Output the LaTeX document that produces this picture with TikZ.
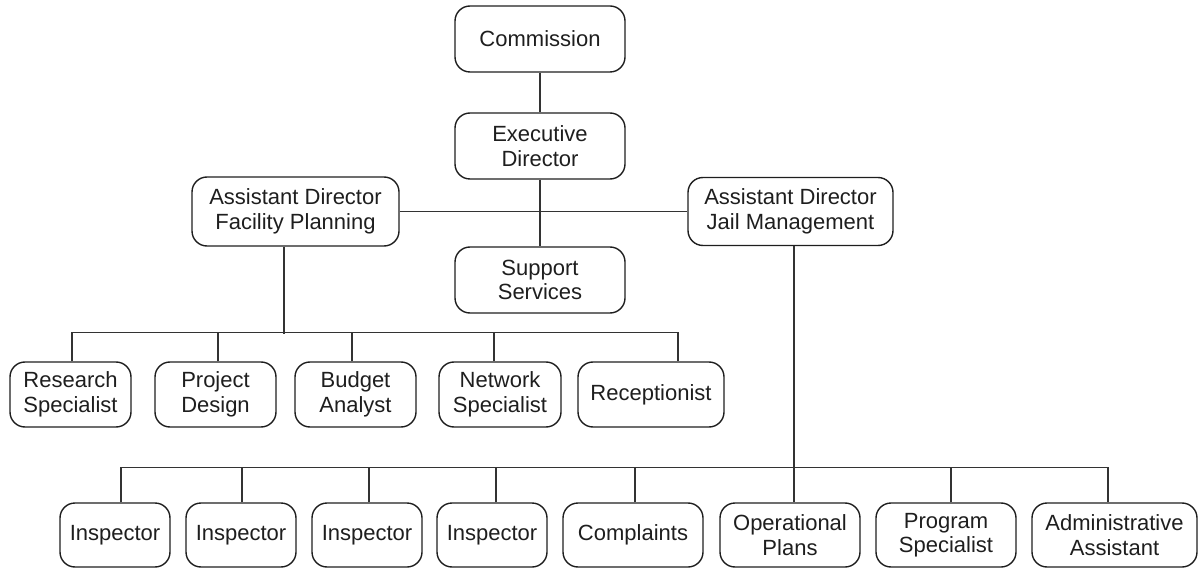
\documentclass[tikz,border=0pt]{standalone}
\usepackage{fontspec}
\setmainfont{Liberation Sans}
\usepackage{tikz}
\definecolor{ink}{HTML}{1E1E1E}
\definecolor{wire}{HTML}{333333}
\tikzstyle{every node}=[text=ink]
\tikzstyle{post}=[draw=ink, line width=1.4pt, rounded corners=15pt, align=center, inner sep=0pt, font=\fontsize{22}{24.5}\selectfont]
\tikzstyle{link}=[draw=wire, line width=1.3pt]

\begin{document}
\begin{tikzpicture}[x=1pt,y=-1pt]
\useasboundingbox (0,0) rectangle (1199,569);

\node[post, minimum width=170pt, minimum height=66pt] (comm) at (540,39) {Commission};
\node[post, minimum width=170pt, minimum height=66pt] (exec) at (540,146) {Executive\\Director};
\node[post, minimum width=170pt, minimum height=66pt] (supp) at (540,280) {Support\\Services};
\node[post, minimum width=207pt, minimum height=69pt] (fp) at (295.5,211.5) {Assistant Director\\Facility Planning};
\node[post, minimum width=205pt, minimum height=68pt] (jm) at (790.5,211.5) {Assistant Director\\Jail Management};

\node[post, minimum width=121pt, minimum height=65pt] (rs) at (70.5,394.5) {Research\\Specialist};
\node[post, minimum width=121pt, minimum height=65pt] (pd) at (215.5,394.5) {Project\\Design};
\node[post, minimum width=121pt, minimum height=65pt] (ba) at (355.5,394.5) {Budget\\Analyst};
\node[post, minimum width=122pt, minimum height=65pt] (ns) at (500,394.5) {Network\\Specialist};
\node[post, minimum width=146pt, minimum height=65pt] (rc) at (651,394.5) {Receptionist};

\node[post, minimum width=110pt, minimum height=64pt] (i1) at (115,535) {Inspector};
\node[post, minimum width=110pt, minimum height=64pt] (i2) at (241,535) {Inspector};
\node[post, minimum width=110pt, minimum height=64pt] (i3) at (367,535) {Inspector};
\node[post, minimum width=110pt, minimum height=64pt] (i4) at (492,535) {Inspector};
\node[post, minimum width=140pt, minimum height=64pt] (cp) at (633,535) {Complaints};
\node[post, minimum width=140pt, minimum height=64pt] (op) at (790,535) {Operational\\Plans};
\node[post, minimum width=140pt, minimum height=64pt] (ps) at (946,535) {Program\\Specialist};
\node[post, minimum width=165pt, minimum height=64pt] (aa) at (1114.5,535) {Administrative\\Assistant};

\draw[link] (comm) -- (exec);
\draw[link] (exec) -- (supp);
\draw[link] (fp.east) -- (jm.west);

\draw[link] ([xshift=-11.5pt]fp.south) -- ++(0,87);
\draw[link] ([xshift=1.5pt]rs.north) -- ++(0,-29) -| ([xshift=27pt]rc.north);
\draw[link] ([xshift=2.5pt]pd.north) -- ++(0,-29);
\draw[link] ([xshift=-3.5pt]ba.north) -- ++(0,-29);
\draw[link] ([xshift=-6pt]ns.north) -- ++(0,-29);

\draw[link] ([xshift=3.5pt]jm.south) -- ([xshift=4pt]op.north);
\draw[link] ([xshift=6pt]i1.north) -- ++(0,-35) -| ([xshift=-6.5pt]aa.north);
\draw[link] ([xshift=1pt]i2.north) -- ++(0,-35);
\draw[link] ([xshift=2pt]i3.north) -- ++(0,-35);
\draw[link] ([xshift=4pt]i4.north) -- ++(0,-35);
\draw[link] ([xshift=2pt]cp.north) -- ++(0,-35);
\draw[link] ([xshift=5pt]ps.north) -- ++(0,-35);
\end{tikzpicture}
\end{document}
